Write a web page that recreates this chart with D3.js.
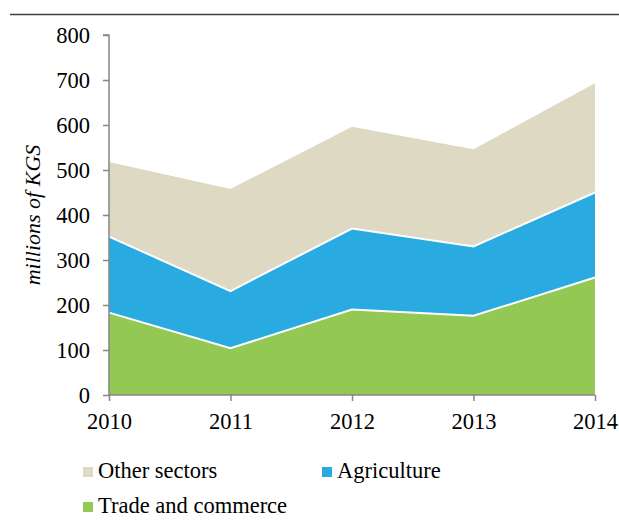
<!DOCTYPE html>
<html>
<head>
<meta charset="utf-8">
<script src="https://cdn.jsdelivr.net/npm/d3@7"></script>
<style>
  html, body { margin: 0; padding: 0; background: #fff; }
  svg { display: block; }
  text { font-family: "Liberation Serif", "Times New Roman", serif; fill: #000; }
</style>
</head>
<body>
<svg id="chart" width="619" height="529"></svg>
<script>
// Yearly values, millions of KGS
const years = [2010, 2011, 2012, 2013, 2014];
const tradeAndCommerce = [183, 104, 190, 176, 261];
const agriculture = [169, 127, 180, 154, 189];
const otherSectors = [166, 227, 226, 216, 243];
const yTicks = [0, 100, 200, 300, 400, 500, 600, 700, 800];

const seriesNames = ["Trade and commerce", "Agriculture", "Other sectors"];
const seriesColors = {
  "Trade and commerce": "#92C853",
  "Agriculture": "#29ABE2",
  "Other sectors": "#DDD9C3"
};

const rows = years.map((yr, i) => ({
  year: yr,
  "Trade and commerce": tradeAndCommerce[i],
  "Agriculture": agriculture[i],
  "Other sectors": otherSectors[i]
}));

const svg = d3.select("#chart");
const plot = { left: 109, right: 595, top: 35, bottom: 395 };
const serif = "'Liberation Serif', 'Times New Roman', serif";

// Rule under the heading
svg.append("line")
  .attr("x1", 10).attr("x2", 619)
  .attr("y1", 14.5).attr("y2", 14.5)
  .attr("stroke", "#404040").attr("stroke-width", 1.6);

const x = d3.scaleLinear().domain([2010, 2014]).range([plot.left, plot.right]);
const y = d3.scaleLinear().domain([0, 800]).range([plot.bottom, plot.top]);

const stack = d3.stack().keys(seriesNames);
const layers = stack(rows);

const area = d3.area()
  .x(d => x(d.data.year))
  .y0(d => y(d[0]))
  .y1(d => y(d[1]));

svg.append("g").selectAll("path")
  .data(layers)
  .join("path")
  .attr("d", area)
  .attr("fill", d => seriesColors[d.key]);

// White separators between stacked layers
const topLine = d3.line()
  .x(d => x(d.data.year))
  .y(d => y(d[1]));
svg.append("g").selectAll("path")
  .data(layers.slice(0, 2))
  .join("path")
  .attr("d", topLine)
  .attr("fill", "none")
  .attr("stroke", "#fff")
  .attr("stroke-width", 2);

// Axes
const axisColor = "#868686";
const yAxis = svg.append("g")
  .attr("transform", `translate(${plot.left},0)`)
  .call(d3.axisLeft(y).tickValues(yTicks).tickSize(6).tickPadding(13).tickFormat(d3.format("d")));
const xAxis = svg.append("g")
  .attr("transform", `translate(0,${plot.bottom})`)
  .call(d3.axisBottom(x).tickValues(years).tickSize(6).tickPadding(12).tickFormat(d3.format("d")));

[yAxis, xAxis].forEach(g => {
  g.attr("font-family", serif);
  g.select(".domain").attr("stroke", axisColor).attr("stroke-width", 1.5);
  g.selectAll(".tick line").attr("stroke", axisColor).attr("stroke-width", 1.5);
  g.selectAll(".tick text")
    .attr("fill", "#000")
    .style("font-family", serif)
    .style("font-size", "22.5px");
});
yAxis.select(".domain").attr("d", `M-6,${plot.top}H0V${plot.bottom}`);
xAxis.select(".domain").attr("d", `M${plot.left},0H${plot.right}`);

// Y axis title
svg.append("text")
  .attr("transform", `translate(40,${(plot.top + plot.bottom) / 2}) rotate(-90)`)
  .attr("text-anchor", "middle")
  .style("font-family", serif)
  .style("font-size", "22px")
  .style("font-style", "italic")
  .text("millions of KGS");

// Legend
const legendItems = [
  { name: "Other sectors", x: 83, y: 467 },
  { name: "Agriculture", x: 322, y: 467 },
  { name: "Trade and commerce", x: 83, y: 502 }
];
const legend = svg.append("g").selectAll("g")
  .data(legendItems)
  .join("g")
  .attr("transform", d => `translate(${d.x},${d.y})`);
legend.append("rect")
  .attr("width", 10).attr("height", 10)
  .attr("fill", d => seriesColors[d.name]);
legend.append("text")
  .attr("x", 15).attr("y", 10.5)
  .style("font-family", serif)
  .style("font-size", "22.5px")
  .text(d => d.name);
</script>
</body>
</html>
